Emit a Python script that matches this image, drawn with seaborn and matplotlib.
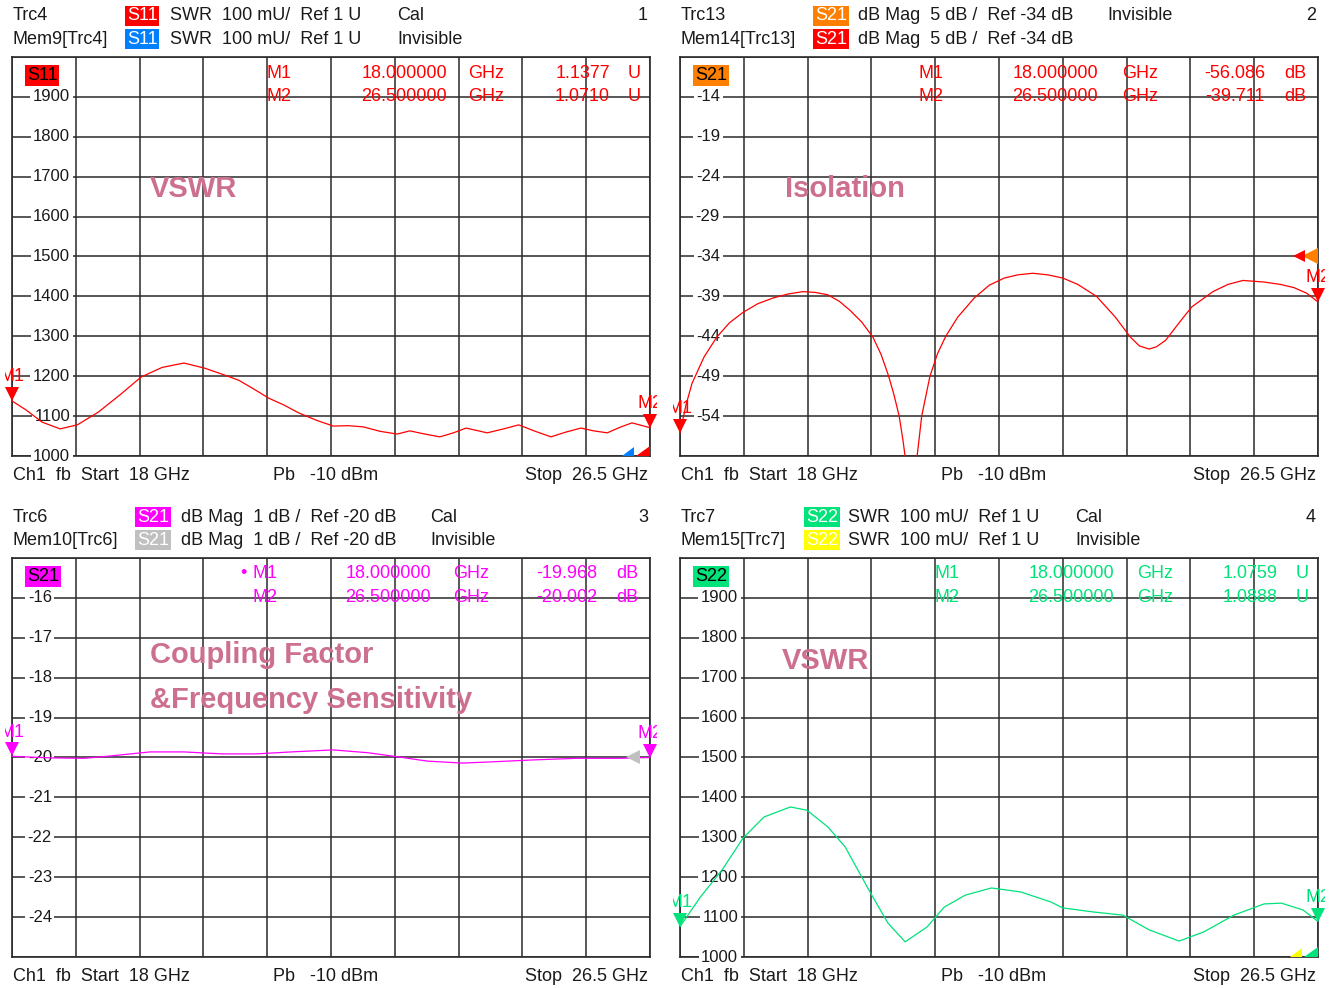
import matplotlib
matplotlib.use("Agg")
import matplotlib.pyplot as plt
import matplotlib.transforms as mtransforms
from matplotlib.patches import Polygon
import numpy as np
import seaborn as sns

W, H = 1332, 988
PW, PH = 638, 399  # size of one plot area in pixels

# ---- values ----
start_ghz, stop_ghz = 18.0, 26.5

# ch1: S11 SWR, in mU
s11_freq = [18.00, 18.19, 18.40, 18.64, 18.87, 19.15, 19.45, 19.72, 20.00, 20.29,
            20.57, 20.80, 21.02, 21.22, 21.42, 21.62, 21.82, 22.05, 22.28, 22.48,
            22.68, 22.90, 23.13, 23.30, 23.50, 23.70, 23.88, 24.05, 24.33, 24.55,
            24.75, 24.97, 25.18, 25.38, 25.58, 25.75, 25.93, 26.10, 26.26, 26.50]
s11_swr = [1138, 1115, 1085, 1068, 1078, 1110, 1155, 1198, 1222, 1233,
           1220, 1205, 1190, 1168, 1145, 1128, 1108, 1090, 1075, 1076,
           1073, 1062, 1055, 1063, 1055, 1048, 1058, 1070, 1058, 1068,
           1078, 1062, 1048, 1060, 1070, 1063, 1058, 1072, 1083, 1071]

# ch2: isolation, S21 dB
iso_freq = [18.00, 18.08, 18.16, 18.32, 18.49, 18.66, 18.84, 19.04, 19.24, 19.44,
            19.64, 19.80, 19.97, 20.12, 20.26, 20.42, 20.57, 20.68, 20.78, 20.85,
            20.92, 20.97, 21.02, 21.08, 21.14, 21.19, 21.22, 21.33, 21.43, 21.54,
            21.70, 21.92, 22.12, 22.32, 22.50, 22.70, 22.90, 23.10, 23.30, 23.55,
            23.80, 24.00, 24.12, 24.25, 24.35, 24.47, 24.65, 24.82, 25.10, 25.30,
            25.50, 25.78, 26.00, 26.18, 26.35, 26.50]
iso_db = [-56.1, -52.6, -49.9, -46.6, -44.1, -42.3, -41.0, -39.9, -39.2, -38.7,
          -38.4, -38.5, -38.8, -39.6, -40.7, -42.2, -44.1, -46.3, -49.0, -51.3,
          -54.0, -57.0, -60.5, -63.5, -60.5, -56.5, -54.0, -49.0, -46.2, -44.0,
          -41.6, -39.2, -37.6, -36.7, -36.3, -36.1, -36.3, -36.7, -37.5, -39.0,
          -41.6, -44.1, -45.2, -45.6, -45.3, -44.5, -42.3, -40.3, -38.4, -37.5,
          -37.0, -37.2, -37.5, -37.9, -38.6, -39.7]

# ch3: coupling, S21 dB
cpl_freq = [18.00, 18.52, 18.97, 19.32, 19.84, 20.29, 20.80, 21.25, 21.72, 22.28,
            22.74, 23.13, 23.53, 24.00, 24.38, 24.95, 25.53, 26.10, 26.50]
cpl_db = [-19.97, -20.01, -20.02, -19.96, -19.86, -19.86, -19.91, -19.91, -19.86, -19.81,
          -19.88, -19.98, -20.09, -20.14, -20.11, -20.06, -20.02, -20.02, -20.00]

# ch4: S22 SWR, in mU
s22_freq = [18.00, 18.27, 18.56, 18.84, 19.12, 19.47, 19.69, 19.97, 20.20, 20.37,
            20.54, 20.77, 21.00, 21.29, 21.52, 21.80, 22.15, 22.54, 22.94, 23.10,
            23.50, 23.90, 24.25, 24.65, 24.98, 25.38, 25.78, 26.01, 26.30, 26.50]
s22_swr = [1076, 1150, 1218, 1298, 1351, 1376, 1368, 1326, 1276, 1218,
           1160, 1085, 1038, 1075, 1125, 1155, 1173, 1163, 1138, 1123,
           1113, 1105, 1068, 1040, 1063, 1105, 1133, 1135, 1118, 1089]

swr_ticks = [1900, 1800, 1700, 1600, 1500, 1400, 1300, 1200, 1100, 1000]
iso_ticks = [-14, -19, -24, -29, -34, -39, -44, -49, -54]
cpl_ticks = [-16, -17, -18, -19, -20, -21, -22, -23, -24]

marker_freqs = ["18.000000", "26.500000"]
s11_marker_vals = ["1.1377", "1.0710"]
iso_marker_vals = ["-56.086", "-39.711"]
cpl_marker_vals = ["-19.968", "-20.002"]
s22_marker_vals = ["1.0759", "1.0888"]

iso_ref = -34
cpl_ref = -20

# ---- colours ----
RED = "#ff0000"
BLUE = "#0080ff"
ORANGE = "#ff8000"
MAGENTA = "#ff00ff"
GRAY = "#c0c0c0"
GREEN = "#00e27a"
YELLOW = "#ffff00"
GRID = "#2a2a2a"
TEXT = "#1a1a1a"
NOTE = "#cd6f8f"

sns.set_style("white")
plt.rcParams["font.family"] = ["Liberation Sans", "DejaVu Sans"]

fig = plt.figure(figsize=(W / 100, H / 100), dpi=100)


def ftext(x, y, s, **kw):
    kw.setdefault("fontsize", 13)
    kw.setdefault("color", TEXT)
    kw.setdefault("va", "center")
    return fig.text(x / W, 1 - y / H, s, **kw)


def tag(x, y, s, fc, tc="white"):
    ftext(x, y, s, color=tc,
          bbox=dict(boxstyle="square,pad=0.1", fc=fc, ec="none"))


def panel(x0, y0, freq, vals, ylim, ticks, tick_right, color, inner_tag,
          header, cols, number, mk_cols, mk_vals, unit, dot=False):
    ax = fig.add_axes([x0 / W, 1 - (y0 + PH) / H, PW / W, PH / H])
    sns.lineplot(x=freq, y=vals, ax=ax, color=color, linewidth=0.9, zorder=2)
    ax.set_xlim(start_ghz, stop_ghz)
    ax.set_ylim(*ylim)
    ax.set_xticks(np.linspace(start_ghz, stop_ghz, 11))
    ax.set_yticks(np.linspace(ylim[0], ylim[1], 11))
    ax.tick_params(length=0, labelbottom=False, labelleft=False)
    ax.set_xlabel("")
    ax.set_ylabel("")
    ax.grid(True, color=GRID, lw=1.1)
    for sp in ax.spines.values():
        sp.set_color(GRID)
        sp.set_linewidth(1.2)
        sp.set_zorder(1.2)

    # y labels sit inside the grid, under the trace
    trans = mtransforms.blended_transform_factory(ax.transAxes, ax.transData)
    for t in ticks:
        ax.text(tick_right / PW, t, f"{t}", transform=trans, ha="right", va="center",
                fontsize=12, color=TEXT, zorder=1.6, clip_on=False,
                bbox=dict(boxstyle="square,pad=0.15", fc="white", ec="none"))

    # trace tag in the corner
    ax.text(15 / PW, 1 - 18.5 / PH, inner_tag[0], transform=ax.transAxes, fontsize=13,
            color="black", va="center",
            bbox=dict(boxstyle="square,pad=0.1", fc=inner_tag[1], ec="none"))

    # marker table
    for i, row_y in enumerate([16, 39]):
        yy = 1 - row_y / PH
        kw = dict(transform=ax.transAxes, fontsize=13, color=color, va="center")
        ax.text(mk_cols[0] / PW, yy, f"M{i + 1}", ha="left", **kw)
        if dot and i == 0:
            ax.text((mk_cols[0] - 12) / PW, yy, "\u2022", ha="left", **kw)
        ax.text(mk_cols[1] / PW, yy, marker_freqs[i], ha="right", **kw)
        ax.text(mk_cols[2] / PW, yy, "GHz", ha="left", **kw)
        ax.text(mk_cols[3] / PW, yy, mk_vals[i], ha="right", **kw)
        ax.text(mk_cols[4] / PW, yy, unit, ha="left", **kw)

    # marker triangles M1 / M2
    clip = mtransforms.Bbox.from_extents(ax.bbox.x0 - 7, ax.bbox.y0 - 40,
                                         ax.bbox.x1 + 7, ax.bbox.y1 + 40)
    tri = mtransforms.offset_copy(ax.transData, fig=fig, x=0, y=5, units="points")
    for i, (f, v) in enumerate([(freq[0], vals[0]), (freq[-1], vals[-1])]):
        ax.plot([f], [v], marker="v", ms=10, color=color, mew=0, transform=tri,
                clip_on=False, zorder=4)
        lab = ax.annotate(f"M{i + 1}", xy=(f, v), xytext=(0, 24), textcoords="offset pixels",
                          ha="center", va="center", fontsize=13, color=color,
                          annotation_clip=False)
        lab.set_clip_on(True)
        lab.set_clip_box(clip)

    # header lines
    for j, (name, tg, tg_col, desc, status) in enumerate(header):
        yy = y0 - 42 + j * 23 + 1
        ftext(x0 + 1, yy, name)
        tag(cols[0], yy, tg, tg_col)
        ftext(cols[1], yy, desc)
        ftext(cols[2], yy, status)
    ftext(x0 + PW - 2, y0 - 41, number, ha="right")

    # footer
    fy = y0 + PH + 19
    ftext(x0 + 1, fy, "Ch1  fb  Start  18 GHz")
    ftext(x0 + 261, fy, "Pb   -10 dBm")
    ftext(x0 + PW - 2, fy, "Stop  26.5 GHz", ha="right")
    return ax


def corner(ax, colors):
    for (r, w, h), c in zip([(-16, 12, 9), (0, 14, 10)], colors):
        pts = [((PW + r - w) / PW, 0), ((PW + r) / PW, 0), ((PW + r) / PW, h / PH)]
        ax.add_patch(Polygon(pts, closed=True, transform=ax.transAxes, fc=c, ec="none",
                             clip_on=False, zorder=4))


def ref_arrow(ax, level, color, ms, dx_pt):
    tr = mtransforms.offset_copy(ax.transData, fig=fig, x=dx_pt, y=0, units="points")
    ax.plot([stop_ghz], [level], marker="<", ms=ms, color=color, mew=0,
            transform=tr, clip_on=False, zorder=4)


swr_desc = "SWR  100 mU/  Ref 1 U"

ax1 = panel(12, 57, s11_freq, s11_swr, (1000, 2000), swr_ticks, 58, RED, ("S11", RED),
            [("Trc4", "S11", RED, swr_desc, "Cal"),
             ("Mem9[Trc4]", "S11", BLUE, swr_desc, "Invisible")],
            (127, 170, 397), "1", (255, 435, 456, 598, 616), s11_marker_vals, "U")
corner(ax1, [BLUE, RED])

iso_desc = "dB Mag  5 dB /  Ref -34 dB"
ax2 = panel(680, 57, iso_freq, iso_db, (-59, -9), iso_ticks, 40, RED, ("S21", ORANGE),
            [("Trc13", "S21", ORANGE, iso_desc, "Invisible"),
             ("Mem14[Trc13]", "S21", RED, iso_desc, "")],
            (815, 858, 1107), "2", (239, 418, 442, 585, 604), iso_marker_vals, "dB")
ref_arrow(ax2, iso_ref, ORANGE, 11, -5.5)
ref_arrow(ax2, iso_ref, RED, 9, -13.5)

cpl_desc = "dB Mag  1 dB /  Ref -20 dB"
ax3 = panel(12, 558, cpl_freq, cpl_db, (-25, -15), cpl_ticks, 40, MAGENTA, ("S21", MAGENTA),
            [("Trc6", "S21", MAGENTA, cpl_desc, "Cal"),
             ("Mem10[Trc6]", "S21", GRAY, cpl_desc, "Invisible")],
            (137, 181, 430), "3", (240, 419, 441, 585, 604), cpl_marker_vals, "dB", dot=True)
ref_arrow(ax3, cpl_ref, GRAY, 10, -12.6)

ax4 = panel(680, 558, s22_freq, s22_swr, (1000, 2000), swr_ticks, 58, GREEN, ("S22", GREEN),
            [("Trc7", "S22", GREEN, swr_desc, "Cal"),
             ("Mem15[Trc7]", "S22", YELLOW, swr_desc, "Invisible")],
            (806, 848, 1075), "4", (255, 434, 457, 598, 616), s22_marker_vals, "U")
corner(ax4, [YELLOW, GREEN])

# notes written on the screen
note = dict(fontsize=21, fontweight="bold", color=NOTE)
ftext(150, 189, "VSWR", **note)
ftext(785, 189, "Isolation", **note)
ftext(150, 655, "Coupling Factor", **note)
ftext(150, 700, "&Frequency Sensitivity", **note)
ftext(782, 661, "VSWR", **note)

fig.savefig("out.png", dpi=100)
